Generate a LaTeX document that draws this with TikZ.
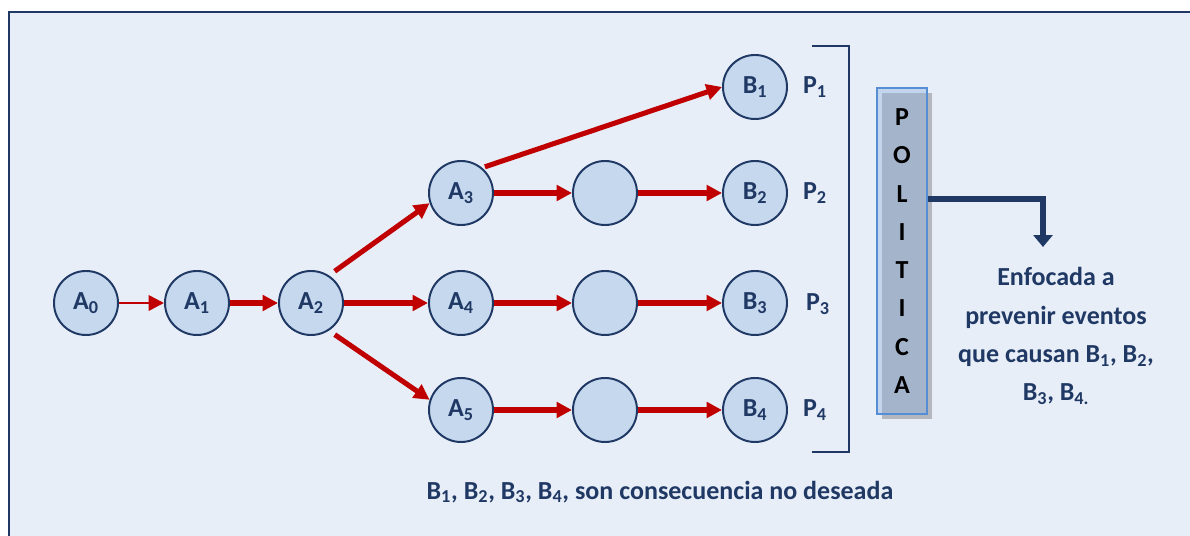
\documentclass[tikz,border=0pt]{standalone}
\usepackage{fontspec}
\setmainfont{Carlito}
\usetikzlibrary{arrows.meta,shadows}
\definecolor{fondo}{RGB}{231,238,248}
\definecolor{marco}{RGB}{31,56,100}
\definecolor{nodofill}{RGB}{197,216,238}
\definecolor{flechacol}{RGB}{192,0,0}
\definecolor{cajafill}{RGB}{142,176,220}
\definecolor{cajaborde}{RGB}{85,142,213}
\definecolor{sombra}{RGB}{180,184,190}
\tikzset{
  evento/.style={draw=marco,circle,fill=nodofill,line width=1.4pt,minimum size=1.6cm,inner sep=0pt,font=\fontsize{18.5}{22}\selectfont\bfseries,text=marco},
  flecha/.style={draw=flechacol,line width=3.6pt,-{Triangle[length=11pt,width=11pt]}},
  fina/.style={draw=flechacol,line width=1.8pt,-{Triangle[length=11pt,width=11pt]}},
  etq/.style={font=\fontsize{18.5}{22}\selectfont\bfseries,text=marco},
  caja/.style={draw=cajaborde,line width=1.3pt,fill=cajafill,fill opacity=0.4,text opacity=1,minimum width=1.25cm,minimum height=8.15cm,inner sep=0pt,drop shadow={shadow xshift=3.6pt,shadow yshift=-3.6pt,fill=sombra,opacity=1}},
  conector/.style={draw=marco,line width=3.6pt,-{Triangle[length=8.5pt,width=13.5pt]}},
}
\begin{document}
\begin{tikzpicture}[x=0.025cm,y=-0.025cm]
  \useasboundingbox (0,0) rectangle (1190,536);
  \fill[fondo] (9,12) rectangle (1190,536);
  \draw[marco,line width=1.6pt] (9,536) -- (9,12) -- (1190,12);
  % cadena de eventos
  \node[evento] (a0) at (86,303) {A\textsubscript{0}};
  \node[evento] (a1) at (197,303) {A\textsubscript{1}};
  \node[evento] (a2) at (311,303) {A\textsubscript{2}};
  \node[evento] (a3) at (461,193) {A\textsubscript{3}};
  \node[evento] (a4) at (461,303) {A\textsubscript{4}};
  \node[evento] (a5) at (461,410) {A\textsubscript{5}};
  \node[evento] (m3) at (605,193) {};
  \node[evento] (m4) at (605,303) {};
  \node[evento] (m5) at (605,410) {};
  \node[evento] (b1) at (755,87) {B\textsubscript{1}};
  \node[evento] (b2) at (755,193) {B\textsubscript{2}};
  \node[evento] (b3) at (755,303) {B\textsubscript{3}};
  \node[evento] (b4) at (755,410) {B\textsubscript{4}};
  \draw[fina] (a0) -- (a1);
  \draw[flecha] (a1) -- (a2);
  \draw[flecha,shorten <=5pt] (a2.57) -- (a3.198);
  \draw[flecha] (a2) -- (a4);
  \draw[flecha,shorten <=5pt] (a2.-57) -- (a5.162);
  \draw[flecha,shorten <=2pt] (a3.50) -- (b1.west);
  \draw[flecha] (a3) -- (m3);
  \draw[flecha] (m3) -- (b2);
  \draw[flecha] (a4) -- (m4);
  \draw[flecha] (m4) -- (b3);
  \draw[flecha] (a5) -- (m5);
  \draw[flecha] (m5) -- (b4);
  % politicas
  \node[etq] (p1) at (815,87) {P\textsubscript{1}};
  \node[etq] (p2) at (815,193) {P\textsubscript{2}};
  \node[etq] (p3) at (818,304) {P\textsubscript{3}};
  \node[etq] (p4) at (815,410) {P\textsubscript{4}};
  \draw[marco,line width=1.4pt] (812,46) -- (849,46) -- (849,452) -- (812,452);
  \node[caja,align=center,font=\fontsize{18.5}{27.2}\selectfont\bfseries] (politica) at (902,251) {P\\O\\L\\I\\T\\I\\C\\A};
  \node[etq,align=center,font=\fontsize{18.5}{27.3}\selectfont\bfseries] (enfoque) at (1056,336) {Enfocada a\\prevenir eventos\\que causan B\textsubscript{1}, B\textsubscript{2},\\B\textsubscript{3}, B\textsubscript{4.}};
  \coordinate (punta) at (1043,247);
  \draw[conector] (politica.east |- 0,199) -| (punta);
  \node[etq] (nota) at (660,492) {B\textsubscript{1}, B\textsubscript{2}, B\textsubscript{3}, B\textsubscript{4}, son consecuencia no deseada};
\end{tikzpicture}
\end{document}
